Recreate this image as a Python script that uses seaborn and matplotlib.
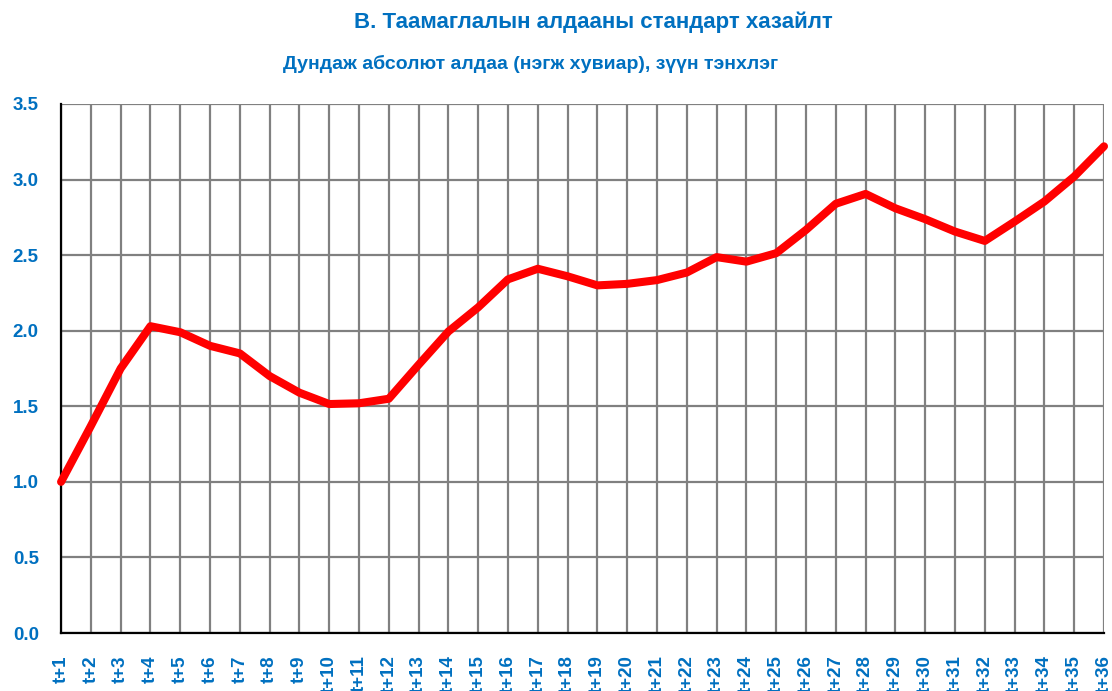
import numpy as np
import pandas as pd
import matplotlib
matplotlib.use("Agg")
import matplotlib.pyplot as plt
import seaborn as sns

# Horizons t+1 ... t+36 and the mean absolute error
horizons = [f"t+{i}" for i in range(1, 37)]
mae = [1.00, 1.37, 1.75, 2.03, 1.99, 1.90, 1.85, 1.70, 1.59, 1.515, 1.52, 1.55,
       1.775, 1.995, 2.155, 2.34, 2.41, 2.36, 2.30, 2.31, 2.335, 2.385, 2.487, 2.457,
       2.513, 2.667, 2.84, 2.905, 2.81, 2.738, 2.656, 2.594, 2.722, 2.855, 3.02, 3.22]
y_ticks = [0.0, 0.5, 1.0, 1.5, 2.0, 2.5, 3.0, 3.5]

title = "В. Таамаглалын алдааны стандарт хазайлт"
subtitle = "Дундаж абсолют алдаа (нэгж хувиар), зүүн тэнхлэг"

blue = "#0070C0"
grey = "#808080"

df = pd.DataFrame({"pos": np.arange(len(horizons)), "mae": mae})

sns.set_style("white")
plt.rcParams['font.family'] = ['Liberation Sans', 'DejaVu Sans']

fig = plt.figure(figsize=(11.12, 6.91), dpi=100)
ax = fig.add_axes([0.0549, 0.0839, 0.9379, 0.7656])

sns.lineplot(data=df, x="pos", y="mae", ax=ax, color="#FF0000", linewidth=5.8,
             solid_capstyle="round", solid_joinstyle="round", clip_on=False, zorder=5)

ax.set_xlim(0, len(horizons) - 1)
ax.set_ylim(0, 3.5)
ax.set_xticks(df["pos"])
ax.set_xticklabels(horizons, rotation=90, va="top", ha="center")
ax.set_yticks(y_ticks)
ax.set_yticklabels([f"{v:.1f}" for v in y_ticks])

ax.grid(True, color=grey, linewidth=1.6)
ax.set_axisbelow(True)

for side in ["top", "right"]:
    ax.spines[side].set_visible(False)
for side in ["left", "bottom"]:
    ax.spines[side].set_color("black")
    ax.spines[side].set_linewidth(1.6)

ax.tick_params(axis="both", direction="out", length=6, width=1.6, color="black",
               labelcolor=blue, labelsize=13.5)
ax.tick_params(axis="x", pad=10)
ax.tick_params(axis="y", pad=10)
for lab in ax.get_xticklabels() + ax.get_yticklabels():
    lab.set_fontweight("bold")

ax.set_xlabel("")
ax.set_ylabel("")

fig.text(0.534, 0.968, title, color=blue, fontsize=16, fontweight="bold",
         ha="center", va="center")
fig.text(0.477, 0.907, subtitle, color=blue, fontsize=14, fontweight="bold",
         ha="center", va="center")

fig.savefig("out.png", dpi=100)
